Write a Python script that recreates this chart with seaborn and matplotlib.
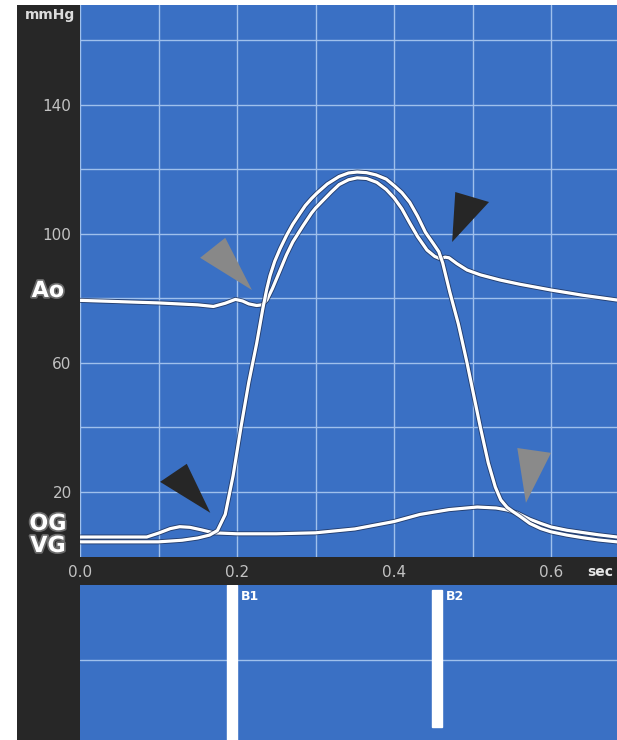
import numpy as np
import pandas as pd
import matplotlib
matplotlib.use("Agg")
import matplotlib.pyplot as plt
import seaborn as sns
from matplotlib import patheffects as pe
from matplotlib.patches import Rectangle

# ---------------- data ----------------
ao_t = [0.00, 0.05, 0.10, 0.15, 0.17, 0.185, 0.198, 0.207, 0.215, 0.225, 0.232, 0.238,
        0.245, 0.255, 0.263, 0.271, 0.284, 0.295, 0.30, 0.31, 0.32, 0.33, 0.342, 0.353,
        0.365, 0.378, 0.39, 0.40, 0.41, 0.42, 0.43, 0.442, 0.452, 0.459, 0.465, 0.47,
        0.48, 0.493, 0.51, 0.535, 0.56, 0.60, 0.64, 0.684]
ao_p = [79.4, 79.0, 78.6, 78.0, 77.5, 78.5, 79.7, 79.2, 78.3, 77.8, 78.0, 79.5,
        83.0, 88.8, 93.5, 97.5, 102.5, 106.5, 108.0, 110.5, 113.0, 115.3, 116.8, 117.4,
        117.2, 116.0, 113.8, 111.2, 107.8, 103.4, 99.2, 95.0, 93.0, 92.3, 92.8, 92.6,
        90.8, 88.8, 87.3, 85.7, 84.4, 82.6, 81.0, 79.5]

vg_t = [0.00, 0.10, 0.13, 0.15, 0.165, 0.175, 0.185, 0.195, 0.205, 0.215, 0.225, 0.233,
        0.238, 0.242, 0.248, 0.255, 0.263, 0.271, 0.28, 0.287, 0.295, 0.302, 0.315,
        0.33, 0.342, 0.353, 0.365, 0.377, 0.39, 0.40, 0.41, 0.42, 0.43, 0.44, 0.45,
        0.457, 0.462, 0.471, 0.482, 0.493, 0.51, 0.52, 0.529, 0.536, 0.544, 0.552,
        0.56, 0.573, 0.587, 0.60, 0.62, 0.64, 0.66, 0.684]
vg_p = [4.5, 4.5, 5.0, 5.7, 6.6, 8.0, 13.0, 25.0, 40.0, 54.0, 66.0, 77.0,
        83.0, 87.0, 91.5, 95.5, 99.5, 103.0, 106.3, 108.8, 111.0, 112.7, 115.5,
        117.8, 118.9, 119.2, 119.0, 118.3, 117.0, 115.0, 112.8, 109.8, 105.5, 100.5, 97.0,
        94.5, 91.0, 82.0, 72.0, 60.0, 40.0, 29.0, 21.5, 17.5, 15.2, 13.8,
        12.5, 10.2, 8.6, 7.6, 6.6, 5.8, 5.1, 4.5]

og_t = [0.00, 0.05, 0.085, 0.10, 0.115, 0.127, 0.14, 0.155, 0.17, 0.20, 0.25, 0.30,
        0.35, 0.40, 0.433, 0.47, 0.506, 0.53, 0.544, 0.557, 0.573, 0.587, 0.60, 0.62,
        0.637, 0.66, 0.684]
og_p = [6.0, 6.0, 6.0, 7.2, 8.6, 9.2, 9.0, 8.2, 7.3, 7.0, 7.0, 7.3,
        8.5, 10.8, 13.0, 14.5, 15.3, 15.0, 14.4, 13.4, 11.5, 10.2, 9.1, 8.1,
        7.5, 6.7, 6.0]

x_ticks = [0.0, 0.1, 0.2, 0.3, 0.4, 0.5, 0.6]
x_labels = ["0.0", "", "0.2", "", "0.4", "", "0.6"]
y_ticks = [20, 40, 60, 80, 100, 120, 140, 160]
y_labels = ["20", "", "60", "", "100", "", "140", ""]

# heart sound markers (lower panel)
snd_names = ["B1", "B2"]
snd_t = [0.1936, 0.4548]
snd_bottom = [0.0, 0.084]
snd_top = [1.0, 0.968]

# arrowheads (annotation triangles, data coordinates)
arrow_dark1 = ([0.102, 0.136, 0.166], [23.1, 28.7, 13.5])
arrow_gray1 = ([0.153, 0.185, 0.219], [92.6, 98.8, 82.6])
arrow_dark2 = ([0.478, 0.521, 0.474], [113.0, 109.9, 97.5])
arrow_gray2 = ([0.557, 0.600, 0.568], [33.6, 32.1, 16.6])

# ---------------- styling ----------------
BLUE = "#3a70c4"
DARK = "#272727"
GRID = "#9fc0ec"
TICKC = "#c2c2c2"
W, H = 617, 740

def fx(px):
    return px / W

def fy(py):
    return 1 - py / H

sns.set_style("white")
fig = plt.figure(figsize=(W / 100, H / 100), dpi=100, facecolor="white")

# dark bands
fig.patches.append(Rectangle((fx(17), 0), fx(80) - fx(17), fy(5), transform=fig.transFigure,
                             facecolor=DARK, edgecolor="none", zorder=-10))
fig.patches.append(Rectangle((fx(17), fy(585)), 1 - fx(17), fy(557) - fy(585),
                             transform=fig.transFigure, facecolor=DARK, edgecolor="none",
                             zorder=-10))

ax = fig.add_axes([fx(80), fy(557), 1 - fx(80), fy(5) - fy(557)])
ax.set_facecolor(BLUE)

line_fx = [pe.Stroke(linewidth=3.6, foreground="#1c2c50", alpha=0.75), pe.Normal()]
df_ao = pd.DataFrame({"t": ao_t, "p": ao_p})
df_vg = pd.DataFrame({"t": vg_t, "p": vg_p})
df_og = pd.DataFrame({"t": og_t, "p": og_p})
for d in (df_og, df_ao, df_vg):
    sns.lineplot(data=d, x="t", y="p", ax=ax, color="white", linewidth=2.3,
                 estimator=None, sort=False, path_effects=line_fx, zorder=4,
                 solid_joinstyle="round", solid_capstyle="round")

for (xs, ys), c in [(arrow_dark1, "#262626"), (arrow_gray1, "#888888"),
                    (arrow_dark2, "#262626"), (arrow_gray2, "#8a8a8a")]:
    ax.fill(xs, ys, color=c, zorder=5, linewidth=0)

ax.set_xlim(0, 0.684)
ax.set_ylim(-0.2, 171)
ax.set_xticks(x_ticks)
ax.set_xticklabels(x_labels)
ax.set_yticks(y_ticks)
ax.set_yticklabels(y_labels)
ax.set_xlabel("")
ax.set_ylabel("")
ax.grid(True, color=GRID, linewidth=1.0)
ax.set_axisbelow(True)
ax.tick_params(axis="both", length=0, colors=TICKC, labelsize=11)
ax.tick_params(axis="x", pad=6)
ax.tick_params(axis="y", pad=6)
for s in ax.spines.values():
    s.set_visible(False)

# lower panel
ax2 = fig.add_axes([fx(80), 0, 1 - fx(80), fy(585)])
ax2.set_facecolor(BLUE)
ax2.set_xlim(0, 0.684)
ax2.set_ylim(0, 1)
ax2.bar(snd_t, [t - b for t, b in zip(snd_top, snd_bottom)], bottom=snd_bottom,
        width=0.0127, color="white", zorder=3)
for name, t in zip(snd_names, snd_t):
    ax2.text(t + 0.0115, 0.925, name, color="white", fontsize=9, fontweight="bold",
             ha="left", va="center", zorder=4)
ax2.set_yticks([0.516])
ax2.set_xticks([])
ax2.grid(True, axis="y", color=GRID, linewidth=1.0)
ax2.set_axisbelow(True)
ax2.tick_params(length=0, labelleft=False, labelbottom=False)
for s in ax2.spines.values():
    s.set_visible(False)

# texts in the dark bands
fig.text(fx(50), fy(15), "mmHg", color="#dcdcdc", fontsize=10, fontweight="bold",
         ha="center", va="center")
fig.text(fx(587), fy(572), "sec", color="#e6e6e6", fontsize=10, fontweight="bold",
         ha="left", va="center")
glow = [pe.withStroke(linewidth=2.5, foreground="#6b6b6b")]
for lab, py in [("Ao", 291), ("OG", 524), ("VG", 546)]:
    fig.text(fx(48), fy(py), lab, color="white", fontsize=16, fontweight="bold",
             ha="center", va="center", path_effects=glow)

fig.savefig("out.png", dpi=100, facecolor="white")
